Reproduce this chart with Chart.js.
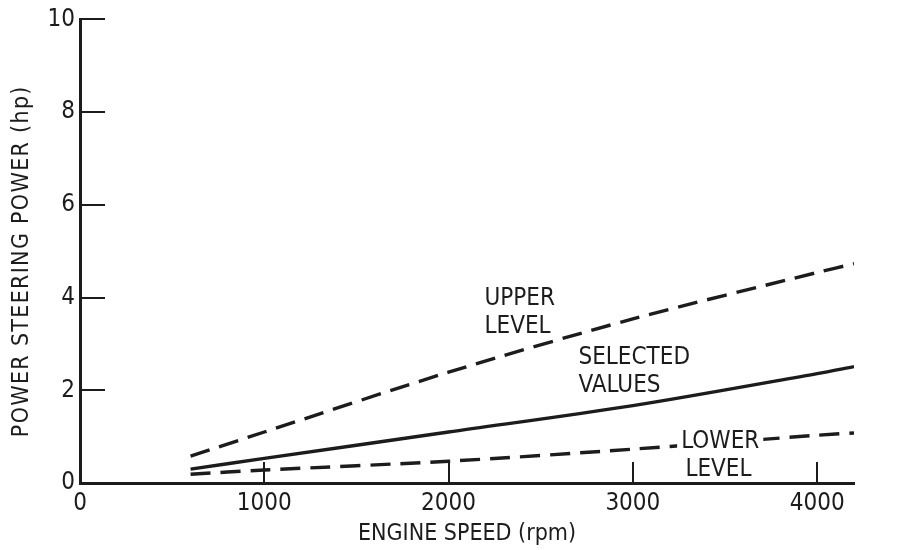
<!DOCTYPE html>
<html>
<head>
<meta charset="utf-8">
<script src="https://cdn.jsdelivr.net/npm/chart.js@4.4.1/dist/chart.umd.min.js"></script>
<style>
  html, body { margin: 0; padding: 0; background: #fff; }
  #wrap { width: 905px; height: 550px; }
</style>
</head>
<body>
<div id="wrap"><canvas id="c" width="905" height="550"></canvas></div>
<script>
// Engine speed (rpm) at which each curve is sampled
const engineSpeed = [600, 1000, 2000, 3000, 4000, 4200];
// Power steering power (hp)
const upperLevel     = [0.58, 1.10, 2.39, 3.54, 4.54, 4.73];
const selectedValues = [0.30, 0.53, 1.10, 1.67, 2.36, 2.51];
const lowerLevel     = [0.19, 0.28, 0.47, 0.73, 1.03, 1.08];

const xTicks = [0, 1000, 2000, 3000, 4000];
const yTicks = [0, 2, 4, 6, 8, 10];

const yTitle = 'POWER STEERING POWER (hp)';
const xTitle = 'ENGINE SPEED (rpm)';

// Curve labels: text lines and the data point each block starts at
const curveLabels = [
  { lines: ['UPPER', 'LEVEL'], x: 2195, y: 3.98, box: false },
  { lines: ['SELECTED', 'VALUES'], x: 2705, y: 2.70, box: false },
  { lines: ['LOWER'], x: 3262, y: 0.88, box: true },
  { lines: ['LEVEL'], x: 3285, y: 0.28, box: false }
];

const INK = '#1c1c1c';
const FONT = '"Liberation Sans Narrow", "DejaVu Sans Condensed", "Liberation Sans", sans-serif';

const pts = (ys) => engineSpeed.map((x, i) => ({ x, y: ys[i] }));

const paperPlugin = {
  id: 'paper',
  beforeDraw(chart) {
    const ctx = chart.ctx;
    ctx.save();
    ctx.fillStyle = '#fff';
    ctx.fillRect(0, 0, chart.width, chart.height);
    ctx.restore();
  }
};

// Inward-pointing tick marks along both axes
const innerTicks = {
  id: 'innerTicks',
  afterDraw(chart) {
    const { ctx, chartArea, scales } = chart;
    ctx.save();
    ctx.strokeStyle = INK;
    ctx.lineWidth = 2;
    yTicks.filter(v => v > 0).forEach(v => {
      const py = Math.round(scales.y.getPixelForValue(v));
      ctx.beginPath();
      ctx.moveTo(chartArea.left, py);
      ctx.lineTo(chartArea.left + 25, py);
      ctx.stroke();
    });
    xTicks.filter(v => v > 0).forEach(v => {
      const px = Math.round(scales.x.getPixelForValue(v));
      ctx.beginPath();
      ctx.moveTo(px, chartArea.bottom);
      ctx.lineTo(px, chartArea.bottom - 21);
      ctx.stroke();
    });
    ctx.restore();
  }
};

// Letter-spaced vertical axis title
const yTitlePlugin = {
  id: 'yTitle',
  afterDraw(chart) {
    const { ctx, chartArea } = chart;
    ctx.save();
    ctx.translate(22, (chartArea.top + chartArea.bottom) / 2 + 10);
    ctx.rotate(-Math.PI / 2);
    ctx.font = '23px ' + FONT;
    if ('letterSpacing' in ctx) ctx.letterSpacing = '1.3px';
    ctx.fillStyle = INK;
    ctx.textAlign = 'center';
    ctx.textBaseline = 'middle';
    ctx.fillText(yTitle, 0, 0);
    ctx.restore();
  }
};

const curveText = {
  id: 'curveText',
  afterDatasetsDraw(chart) {
    const { ctx, scales } = chart;
    ctx.save();
    ctx.font = '24px ' + FONT;
    ctx.textBaseline = 'middle';
    ctx.textAlign = 'left';
    curveLabels.forEach(lab => {
      const px = scales.x.getPixelForValue(lab.x);
      let py = scales.y.getPixelForValue(lab.y);
      lab.lines.forEach(t => {
        if (lab.box) {
          const w = ctx.measureText(t).width;
          ctx.fillStyle = '#fff';
          ctx.fillRect(px - 4, py - 10, w + 8, 20);
        }
        ctx.fillStyle = INK;
        ctx.fillText(t, px, py);
        py += 28;
      });
    });
    ctx.restore();
  }
};

new Chart(document.getElementById('c'), {
  type: 'line',
  data: {
    datasets: [
      { label: 'UPPER LEVEL', data: pts(upperLevel), borderColor: INK, borderWidth: 3.4,
        borderDash: [20, 10], pointRadius: 0, tension: 0.3, fill: false },
      { label: 'SELECTED VALUES', data: pts(selectedValues), borderColor: INK, borderWidth: 3.4,
        pointRadius: 0, tension: 0.3, fill: false },
      { label: 'LOWER LEVEL', data: pts(lowerLevel), borderColor: INK, borderWidth: 3.4,
        borderDash: [20, 10], pointRadius: 0, tension: 0.3, fill: false }
    ]
  },
  options: {
    responsive: false,
    animation: false,
    events: [],
    layout: { padding: { top: 18, right: 51, left: 0, bottom: 0 } },
    plugins: { legend: { display: false }, tooltip: { enabled: false } },
    scales: {
      x: {
        type: 'linear', min: 0, max: 4200,
        afterBuildTicks: (s) => { s.ticks = xTicks.map(v => ({ value: v })); },
        afterFit: (s) => { s.height = 67; },
        grid: { display: false, drawTicks: false },
        border: { display: true, color: INK, width: 3 },
        ticks: { color: INK, padding: 6, maxRotation: 0, font: { family: FONT, size: 24 },
                 callback: (v) => String(v) },
        title: { display: true, text: xTitle, color: INK,
                 font: { family: FONT, size: 23 }, padding: { top: 0, bottom: 2 } }
      },
      y: {
        type: 'linear', min: 0, max: 10,
        afterBuildTicks: (s) => { s.ticks = yTicks.map(v => ({ value: v })); },
        afterFit: (s) => { s.width = 80; },
        grid: { display: false, drawTicks: false },
        border: { display: true, color: INK, width: 3 },
        ticks: { color: INK, padding: 5, font: { family: FONT, size: 24 } },
        title: { display: false }
      }
    }
  },
  plugins: [paperPlugin, innerTicks, yTitlePlugin, curveText]
});
</script>
</body>
</html>
